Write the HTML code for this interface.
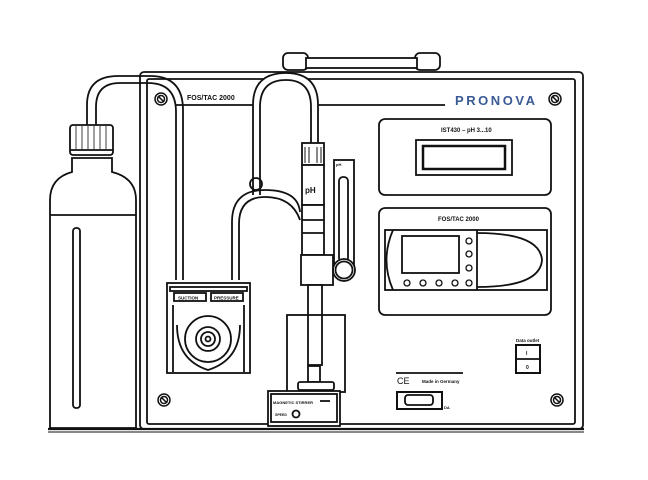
<!DOCTYPE html>
<html><head><style>
html,body{margin:0;padding:0;background:#fff;width:648px;height:480px;overflow:hidden}
svg{display:block}
text{font-family:"Liberation Sans",sans-serif;font-weight:bold;fill:#111}
</style></head><body>
<svg width="648" height="480" viewBox="0 0 648 480" fill="none" stroke="#111" stroke-width="1.8">
<!-- handle -->
<rect x="283" y="53" width="25" height="17" rx="5" fill="#fff"/>
<rect x="415" y="53" width="25" height="17" rx="5" fill="#fff"/>
<rect x="306" y="58" width="111" height="10" fill="#fff"/>
<!-- case -->
<rect x="140" y="72" width="443" height="357" rx="4" fill="#fff"/>
<rect x="147" y="79" width="428" height="345" rx="2"/>
<line x1="48" y1="429" x2="584" y2="429" stroke-width="2.2"/>
<line x1="48" y1="432" x2="584" y2="432" stroke-width="1"/>
<!-- header line -->
<line x1="175" y1="105" x2="445" y2="105"/>
<text x="187" y="100" font-size="7" stroke="none">FOS/TAC 2000</text>
<text x="455" y="105" font-size="13" stroke="none" style="fill:#3a5a95" textLength="80">PRONOVA</text>
<!-- screws -->
<g stroke-width="1.5">
<circle cx="161" cy="99" r="6"/><circle cx="161" cy="99" r="3.5"/><line x1="158" y1="96" x2="164" y2="102"/>
<circle cx="555" cy="99" r="6"/><circle cx="555" cy="99" r="3.5"/><line x1="552" y1="96" x2="558" y2="102"/>
<circle cx="164" cy="400" r="6"/><circle cx="164" cy="400" r="3.5"/><line x1="161" y1="397" x2="167" y2="403"/>
<circle cx="557" cy="400" r="6"/><circle cx="557" cy="400" r="3.5"/><line x1="554" y1="397" x2="560" y2="403"/>
</g>
<!-- bottle -->
<path d="M50 428 V200 Q50 178 72 172 V158 H112 V172 Q136 178 136 200 V428 Z" fill="#fff"/>
<rect x="70" y="125" width="43" height="30" rx="3" fill="#fff"/>
<line x1="70" y1="150" x2="113" y2="150"/>
<path d="M76 126 V149 M82 126 V149 M88 126 V149 M94 126 V149 M100 126 V149 M106 126 V149" stroke-width="0.8"/>
<line x1="50" y1="215" x2="136" y2="215"/>
<rect x="73" y="228" width="7" height="180" rx="3"/>
<!-- left tube -->
<path d="M87 125 V105 Q87 76 118 76 H150 Q183 76 183 110 V280" fill="none"/>
<path d="M96 125 V107 Q96 83 120 83 H148 Q176 83 176 112 V280" fill="none"/>
<!-- tube to electrode -->
<path d="M253 195 V105 Q253 73 286 73 Q318 73 318 105 V145" fill="#fff"/>
<path d="M260 195 V107 Q260 80 286 80 Q311 80 311 107 V145"/>
<circle cx="256" cy="184" r="6"/>
<!-- second tube -->
<path d="M232 280 V222 Q232 190 265 190 Q298 190 300 212" />
<path d="M239 280 V224 Q239 197 265 197 Q292 197 300 220"/>
<!-- pump -->
<rect x="167" y="283" width="83" height="90" fill="#fff"/>
<rect x="170" y="287" width="77" height="4"/>
<rect x="174" y="293" width="32" height="8"/><rect x="211" y="293" width="32" height="8"/>
<text x="178" y="299.5" font-size="4.5" stroke="none">SUCTION</text>
<text x="214" y="299.5" font-size="4.5" stroke="none">PRESSURE</text>
<path d="M173 305 V372 M244 305 V372"/>
<path d="M177 325 Q177 360 208 370 Q240 360 240 325"/>
<circle cx="208" cy="339" r="23"/><circle cx="208" cy="339" r="12"/><circle cx="208" cy="339" r="7"/><circle cx="208" cy="339" r="2.5"/>
<!-- pH electrode -->
<rect x="302" y="143" width="22" height="22" fill="#fff"/>
<path d="M305 147 V163 M309 147 V163 M317 147 V163 M321 147 V163" stroke-width="1"/>
<rect x="302" y="165" width="22" height="40" fill="#fff"/>
<text x="305" y="193" font-size="8" stroke="none">pH</text>
<rect x="302" y="205" width="22" height="50" fill="#fff"/>
<line x1="302" y1="220" x2="324" y2="220"/><line x1="302" y1="233" x2="324" y2="233"/>
<!-- sensor rail -->
<rect x="334" y="160" width="20" height="110" fill="#fff"/>
<rect x="339" y="177" width="9" height="85" rx="4"/>
<text x="336" y="166" font-size="4" stroke="none">pH</text>
<rect x="301" y="255" width="32" height="30" fill="#fff"/>
<circle cx="344" cy="270" r="11" fill="#fff"/><circle cx="344" cy="270" r="8.5"/>
<rect x="308" y="285" width="14" height="80" fill="#fff"/>
<!-- beaker -->
<rect x="287" y="315" width="58" height="77"/>
<rect x="308" y="366" width="12" height="16" fill="#fff"/>
<rect x="298" y="382" width="36" height="8" rx="2" fill="#fff"/>
<!-- base -->
<rect x="268" y="391" width="72" height="35" fill="#fff"/>
<rect x="271" y="394" width="66" height="28"/>
<text x="273" y="404" font-size="4" stroke="none">MAGNETIC STIRRER</text>
<line x1="320" y1="401" x2="330" y2="401"/>
<text x="275" y="416" font-size="3.5" stroke="none">SPEED</text>
<circle cx="296" cy="414" r="3.5"/>
<!-- display 1 -->
<rect x="379" y="119" width="172" height="76" rx="6"/>
<text x="441" y="132" font-size="6" stroke="none">IST430 – pH 3...10</text>
<rect x="416" y="140" width="96" height="35"/>
<rect x="423" y="146" width="82" height="23" stroke-width="2.5"/>
<!-- display 2 -->
<rect x="379" y="208" width="172" height="107" rx="6"/>
<text x="438" y="221" font-size="6" stroke="none">FOS/TAC 2000</text>
<rect x="385" y="230" width="162" height="60"/>
<path d="M393 230 Q380 260 393 290"/>
<line x1="477" y1="230" x2="477" y2="290"/>
<path d="M477 233 Q540 233 542 260 Q540 287 477 287"/>
<rect x="402" y="236" width="57" height="37"/>
<g stroke-width="1.3">
<circle cx="469" cy="241" r="3"/><circle cx="469" cy="254" r="3"/><circle cx="469" cy="268" r="3"/>
<circle cx="407" cy="283" r="3"/><circle cx="423" cy="283" r="3"/><circle cx="439" cy="283" r="3"/><circle cx="455" cy="283" r="3"/><circle cx="469" cy="283" r="3"/>
</g>
<!-- data outlet -->
<text x="516" y="342" font-size="4.5" stroke="none">Data outlet</text>
<rect x="516" y="345" width="24" height="28" stroke-width="2"/>
<line x1="516" y1="359" x2="540" y2="359"/>
<text x="526" y="355" font-size="5" stroke="none">I</text><text x="526" y="369" font-size="5" stroke="none">0</text>
<!-- CE -->
<line x1="396" y1="373" x2="463" y2="373"/>
<text x="397" y="384" font-size="9" stroke="none" style="font-weight:normal">CE</text>
<text x="422" y="383" font-size="4.5" stroke="none">Made in Germany</text>
<rect x="397" y="392" width="45" height="17" stroke-width="2"/>
<rect x="405" y="395" width="28" height="10" rx="3"/>
<text x="444" y="409" font-size="4" stroke="none">DA</text>
</svg>
</body></html>
